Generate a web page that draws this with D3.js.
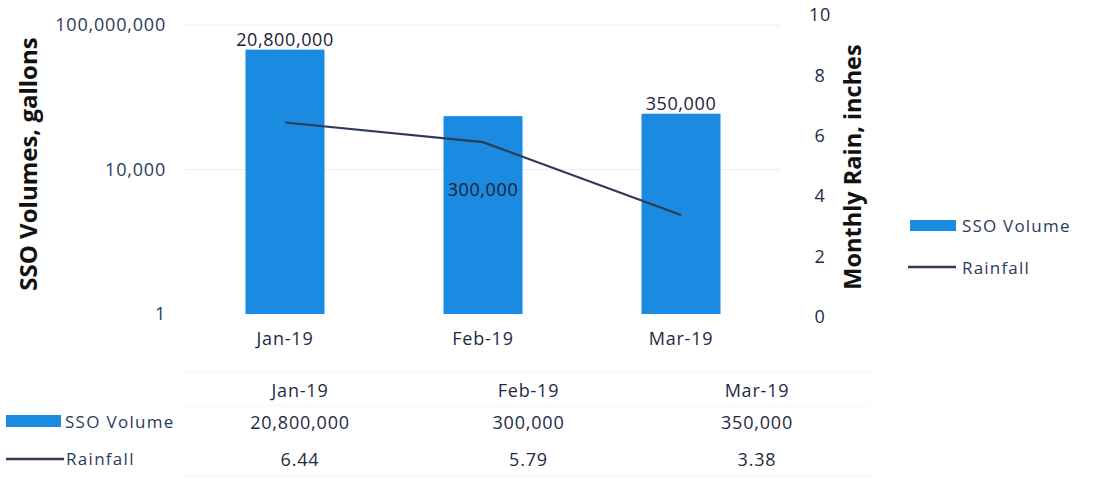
<!DOCTYPE html>
<html><head><meta charset="utf-8">
<script src="https://cdn.jsdelivr.net/npm/d3@7"></script>
<style>
body{margin:0;background:#fff;}
svg{display:block;font-family:"Open Sans",Lato,sans-serif;}
</style></head>
<body><svg id="c" width="1096" height="479"></svg>
<script>
const categories = ["Jan-19","Feb-19","Mar-19"];
const ssoVolume = [20800000, 300000, 350000];
const rainfall = [6.44, 5.79, 3.38];
const leftTicks = [1, 10000, 100000000];
const rightTicks = [0,2,4,6,8,10];
const seriesNames = ["SSO Volume","Rainfall"];

const barColor = "#1a8be0", lineColor = "#2e3a58", textColor = "#1f2a44";
const FONT = "'Open Sans'";
const svg = d3.select("#c");

const x = d3.scaleBand().domain(categories).range([186, 780]).paddingInner(0.6).paddingOuter(0.3);
const yL = d3.scaleLog().domain([1, 1e8]).range([314, 25]);
const yR = d3.scaleLinear().domain([0, 10]).range([317, 15]);

function num(sel, size, ls){
  sel.style("font-family", FONT).style("font-size", size + "px").style("letter-spacing", ls + "px");
}

// gridlines (faint)
svg.append("g").selectAll("line").data(leftTicks.slice(1)).join("line")
  .attr("x1", 186).attr("x2", 780)
  .attr("y1", d => yL(d)).attr("y2", d => yL(d))
  .attr("stroke", "#eeeeee").attr("stroke-width", 1);

// left axis
const axL = d3.axisLeft(yL).tickValues(leftTicks).tickFormat(d3.format(",")).tickSize(0).tickPadding(0);
const gL = svg.append("g").attr("transform","translate(166,0)").call(axL);
gL.select(".domain").remove();
gL.selectAll("text").attr("fill", "#2d3a5c").call(num, 18, 0.8);

// right axis
const axR = d3.axisRight(yR).tickValues(rightTicks).tickSize(0).tickPadding(0);
const gR = svg.append("g").attr("transform","translate(820,0)").call(axR);
gR.select(".domain").remove();
gR.selectAll("text").attr("fill", textColor).attr("text-anchor","middle").call(num, 18, 0.8);

// x axis labels
const axX = d3.axisBottom(x).tickSize(0).tickPadding(0);
const gX = svg.append("g").attr("transform","translate(0,332)").call(axX);
gX.select(".domain").remove();
gX.selectAll("text").attr("fill", textColor).call(num, 18, 0.8);

// bars
const bw = 79;
svg.append("g").selectAll("rect").data(ssoVolume).join("rect")
  .attr("x", (d,i) => x(categories[i]) + x.bandwidth()/2 - bw/2)
  .attr("width", bw)
  .attr("y", d => yL(d))
  .attr("height", d => yL(1) - yL(d))
  .attr("fill", barColor);

// line
const line = d3.line().x((d,i) => x(categories[i]) + x.bandwidth()/2).y(d => yR(d));
svg.append("path").datum(rainfall).attr("d", line)
  .attr("fill","none").attr("stroke", lineColor).attr("stroke-width", 2.2).attr("stroke-linejoin","round");

// data labels
const labelDy = [-4, 80, -4];
svg.append("g").selectAll("text").data(ssoVolume).join("text")
  .attr("x", (d,i) => x(categories[i]) + x.bandwidth()/2)
  .attr("y", (d,i) => yL(d) + labelDy[i])
  .attr("text-anchor","middle")
  .attr("fill", "#1c2233")
  .call(num, 18, 0.6)
  .text(d3.format(","));

// axis titles
svg.append("text").attr("transform","translate(37,164) rotate(-90)")
  .attr("text-anchor","middle").attr("fill","#111").style("font-family",FONT).style("font-size","24px").style("font-weight","bold")
  .text("SSO Volumes, gallons");
svg.append("text").attr("transform","translate(861,167) rotate(-90)")
  .attr("text-anchor","middle").attr("fill","#111").style("font-family",FONT).style("font-size","23.5px").style("font-weight","bold")
  .text("Monthly Rain, inches");

// legend
const lg = svg.append("g");
lg.append("rect").attr("x",910).attr("y",220).attr("width",46).attr("height",11).attr("fill",barColor);
lg.append("text").attr("x",962).attr("y",232).attr("fill","#2d3a5c").call(num, 17, 1.2).text(seriesNames[0]);
lg.append("line").attr("x1",908).attr("x2",956).attr("y1",267).attr("y2",267).attr("stroke",lineColor).attr("stroke-width",2.5);
lg.append("text").attr("x",962).attr("y",274).attr("fill","#2d3a5c").call(num, 17, 1.2).text(seriesNames[1]);

// data table
const tx = d3.scalePoint().domain(categories).range([300, 757]);
const tbl = svg.append("g");
[372, 406, 440, 476].forEach(yy => tbl.append("line").attr("x1",180).attr("x2",870).attr("y1",yy).attr("y2",yy).attr("stroke","#f5f5f5"));
tbl.selectAll("text.h").data(categories).join("text").attr("class","h")
  .attr("x", d => tx(d)).attr("y", 397).attr("text-anchor","middle")
  .attr("fill",textColor).call(num, 18, 0.8).text(d => d);
tbl.selectAll("text.s").data(ssoVolume).join("text").attr("class","s")
  .attr("x", (d,i) => tx(categories[i])).attr("y", 429).attr("text-anchor","middle")
  .attr("fill",textColor).call(num, 18, 0.8).text(d3.format(","));
tbl.selectAll("text.r").data(rainfall).join("text").attr("class","r")
  .attr("x", (d,i) => tx(categories[i])).attr("y", 466).attr("text-anchor","middle")
  .attr("fill",textColor).call(num, 18, 0.8).text(d3.format(".2f"));
tbl.append("rect").attr("x",6).attr("y",415).attr("width",55).attr("height",12).attr("fill",barColor);
tbl.append("text").attr("x",65).attr("y",428).attr("fill","#2d3a5c").call(num, 17, 1.3).text(seriesNames[0]);
tbl.append("line").attr("x1",6).attr("x2",64).attr("y1",459).attr("y2",459).attr("stroke",lineColor).attr("stroke-width",2.5);
tbl.append("text").attr("x",66).attr("y",465).attr("fill","#2d3a5c").call(num, 17, 1.3).text(seriesNames[1]);
</script></body></html>
